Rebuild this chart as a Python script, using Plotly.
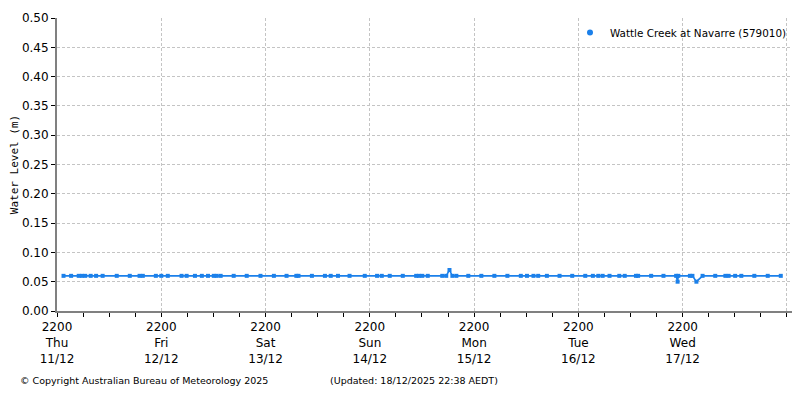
import plotly.graph_objects as go
#-------------------------------------------------------------------------------
#   DATA (water level, m)
times=["2025-12-11 23:30","2025-12-12 01:15","2025-12-12 03:00","2025-12-12 03:45",
       "2025-12-12 04:30","2025-12-12 05:45","2025-12-12 07:00","2025-12-12 08:30",
       "2025-12-12 11:45","2025-12-12 14:45","2025-12-12 17:00","2025-12-12 17:45",
       "2025-12-12 20:45","2025-12-12 22:00","2025-12-12 23:30","2025-12-13 02:40",
       "2025-12-13 03:50","2025-12-13 05:45","2025-12-13 07:20","2025-12-13 08:45",
       "2025-12-13 10:05","2025-12-13 10:45","2025-12-13 11:40","2025-12-13 14:40",
       "2025-12-13 17:40","2025-12-13 20:50","2025-12-13 23:55","2025-12-14 02:50",
       "2025-12-14 05:05","2025-12-14 05:35","2025-12-14 08:40","2025-12-14 11:40",
       "2025-12-14 13:00","2025-12-14 14:40","2025-12-14 17:20","2025-12-14 20:50",
       "2025-12-14 23:40","2025-12-15 00:45","2025-12-15 02:35","2025-12-15 05:35",
       "2025-12-15 08:40","2025-12-15 09:20","2025-12-15 10:05","2025-12-15 11:20",
       "2025-12-15 14:40","2025-12-15 15:35","2025-12-15 16:20","2025-12-15 17:00",
       "2025-12-15 17:55","2025-12-15 20:40","2025-12-15 23:40","2025-12-16 02:40",
       "2025-12-16 05:40","2025-12-16 08:45","2025-12-16 10:10","2025-12-16 11:40",
       "2025-12-16 12:45","2025-12-16 14:45","2025-12-16 17:40","2025-12-16 20:35",
       "2025-12-16 23:35","2025-12-17 01:20","2025-12-17 02:35","2025-12-17 03:35",
       "2025-12-17 05:10","2025-12-17 07:25","2025-12-17 08:40","2025-12-17 11:15",
       "2025-12-17 11:45","2025-12-17 14:45","2025-12-17 17:35","2025-12-17 20:30",
       "2025-12-17 20:50","2025-12-17 21:00","2025-12-17 23:40","2025-12-18 00:15",
       "2025-12-18 01:10","2025-12-18 02:35","2025-12-18 05:30","2025-12-18 07:50",
       "2025-12-18 08:35","2025-12-18 10:05","2025-12-18 11:30","2025-12-18 14:30",
       "2025-12-18 17:35","2025-12-18 20:35"]
level=[0.06]*len(times)
level[times.index("2025-12-15 16:20")]=0.07
level[times.index("2025-12-17 20:50")]=0.05
level[times.index("2025-12-18 01:10")]=0.05
day_ticks=["2025-12-11 22:00","2025-12-12 22:00","2025-12-13 22:00","2025-12-14 22:00",
           "2025-12-15 22:00","2025-12-16 22:00","2025-12-17 22:00","2025-12-18 22:00"]
day_labels=["2200<br>Thu<br>11/12","2200<br>Fri<br>12/12","2200<br>Sat<br>13/12",
            "2200<br>Sun<br>14/12","2200<br>Mon<br>15/12","2200<br>Tue<br>16/12",
            "2200<br>Wed<br>17/12",""]
y_ticks=[0.0,0.05,0.10,0.15,0.20,0.25,0.30,0.35,0.40,0.45,0.50]
#-------------------------------------------------------------------------------
blue='#1b80ea'
fig=go.Figure()
fig.add_trace(go.Scatter(x=times,y=level,mode='lines+markers',showlegend=False,
    line=dict(color=blue,width=1.6),
    marker=dict(color=blue,size=4,symbol='square')))
# legend entry is just a dot
fig.add_trace(go.Scatter(x=[None],y=[None],mode='markers',
    name='Wattle Creek at Navarre (579010)',
    marker=dict(color=blue,size=6,symbol='circle')))
# page body has an 8px margin -> margins shifted to land the plot box where it should be
fig.update_layout(
    width=800,height=400,paper_bgcolor='white',plot_bgcolor='white',
    margin=dict(l=49,r=16,t=10,b=97),
    font=dict(family='DejaVu Sans',size=11,color='black'),
    showlegend=True,
    legend=dict(x=1,y=1,xanchor='right',yanchor='top',bgcolor='rgba(0,0,0,0)',
                font=dict(size=10.4),itemwidth=30,tracegroupgap=0),
)
fig.update_xaxes(range=["2025-12-11 22:00","2025-12-18 23:10"],automargin=False,
    tickmode='array',tickvals=day_ticks,ticktext=day_labels,
    ticks='outside',ticklen=4,tickcolor='black',
    showline=True,linecolor='#808080',linewidth=2,
    showgrid=True,gridcolor='#c4c4c4',griddash='3px,2px',gridwidth=1,
    minor=dict(dtick=6*3600*1000,tick0="2025-12-11 22:00",ticks='outside',
               ticklen=4,tickcolor='black',showgrid=False),
    tickfont=dict(size=12),zeroline=False)
fig.update_yaxes(range=[0,0.5],tickmode='array',tickvals=y_ticks,automargin=False,
    tickformat='.2f',ticks='outside',ticklen=4,tickcolor='black',
    showline=True,linecolor='#808080',linewidth=2,mirror=True,
    showgrid=True,gridcolor='#c4c4c4',griddash='3px,2px',gridwidth=1,
    tickfont=dict(size=12),zeroline=False,
    title=dict(text='Water Level (m)',font=dict(family='DejaVu Sans Mono',size=11),standoff=8))
fig.add_annotation(text='© Copyright Australian Bureau of Meteorology 2025',
    xref='paper',yref='paper',x=-0.053,y=-0.2355,xanchor='left',yanchor='middle',
    showarrow=False,font=dict(size=9.5))
fig.add_annotation(text='(Updated: 18/12/2025 22:38 AEDT)',
    xref='paper',yref='paper',x=0.3687,y=-0.2355,xanchor='left',yanchor='middle',
    showarrow=False,font=dict(size=9.5))
fig.write_html("out.html")
